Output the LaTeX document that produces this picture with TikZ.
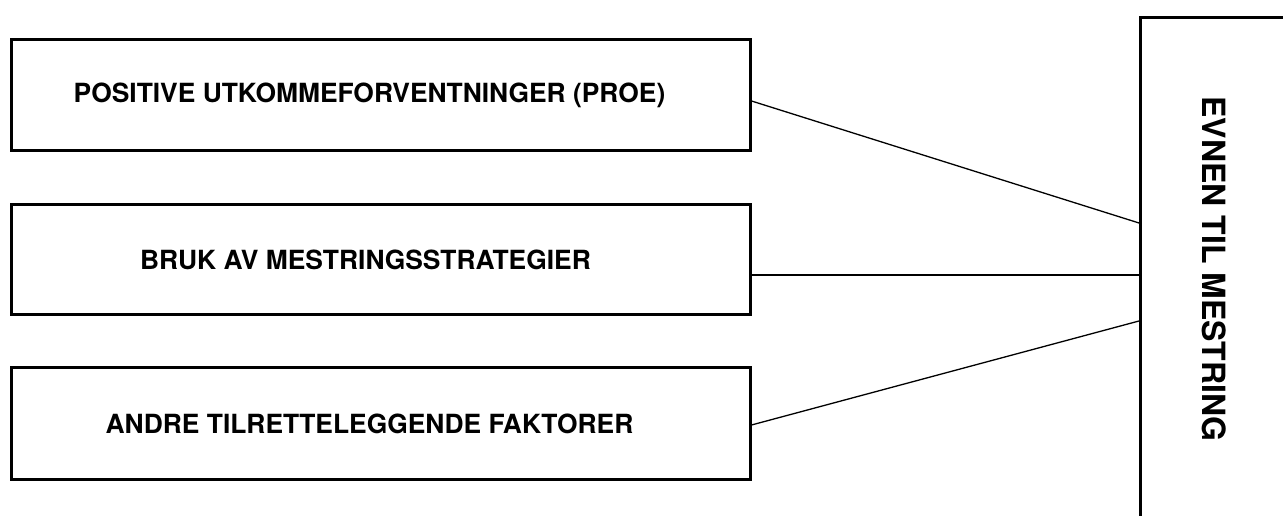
\documentclass[tikz,border=0pt]{standalone}
\usepackage{fontspec}
\setmainfont{TeX Gyre Heros}
\newcommand{\shiftpad}{\hspace*{22pt}}
\begin{document}
\begin{tikzpicture}[x=1pt,y=1pt,
  factorbox/.style={draw=black, line width=3pt, minimum width=739pt, minimum height=111pt, inner sep=0pt, font=\fontsize{26.4}{30}\selectfont\bfseries},
  outcomebox/.style={draw=black, line width=3pt, minimum width=200pt, minimum height=540pt, inner sep=0pt, anchor=north west},
  link/.style={draw=black, line width=1.3pt}]
\useasboundingbox (0,0) rectangle (1283,516);
\clip (0,0) rectangle (1283,516);
\node[factorbox] (proe) at (380.5,420.5) {POSITIVE UTKOMMEFORVENTNINGER (PROE)\shiftpad};
\node[factorbox, minimum height=110pt] (bruk) at (380.5,256) {BRUK AV MESTRINGSSTRATEGIER\hspace*{30pt}};
\node[factorbox, minimum height=112pt] (andre) at (380.5,92) {ANDRE TILRETTELEGGENDE FAKTORER\shiftpad};
\node[outcomebox] (evne) at (1139,500) {};
\node[rotate=-90, font=\fontsize{32}{36}\selectfont\bfseries] (evnetxt) at (1214,247) {EVNEN TIL MESTRING};
\coordinate (e1) at (evne.west |- 0,293);
\coordinate (b2) at (bruk.east |- 0,241);
\coordinate (e2) at (evne.west |- 0,241);
\coordinate (e3) at (evne.west |- 0,195);
\draw[link] (proe.east |- 0,415) -- (e1);
\draw[link] (b2) -- (e2);
\draw[link] (andre.east |- 0,91) -- (e3);
\end{tikzpicture}
\end{document}
